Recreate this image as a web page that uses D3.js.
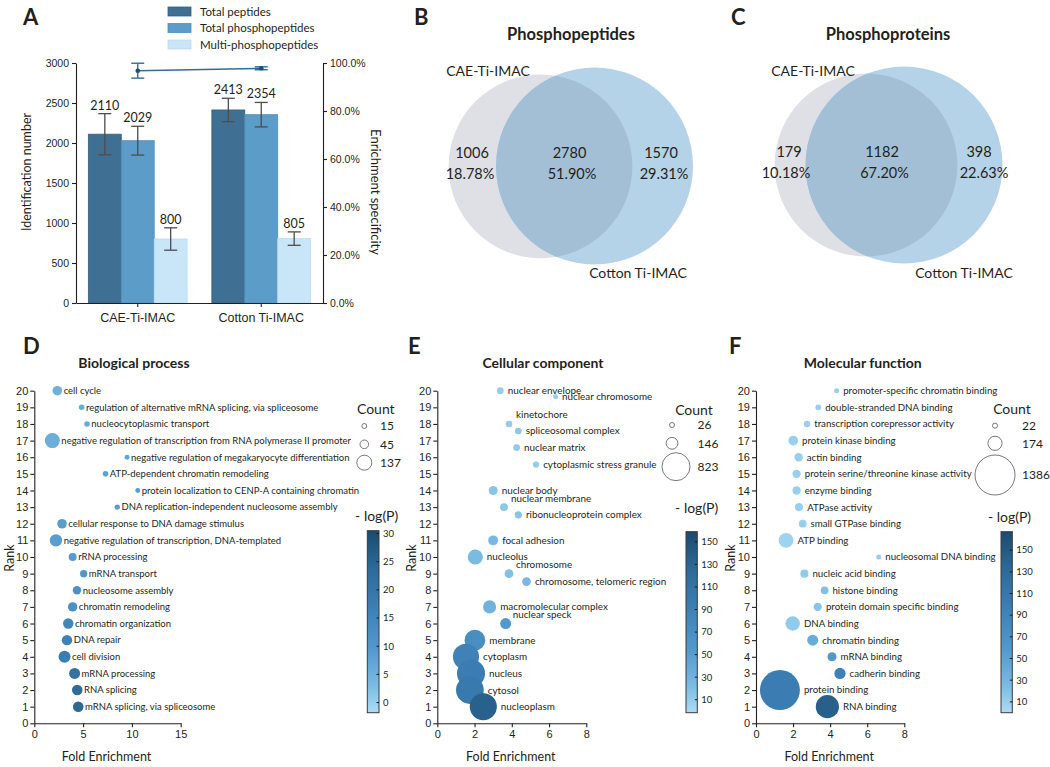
<!DOCTYPE html>
<html><head><meta charset="utf-8">
<script src="https://cdn.jsdelivr.net/npm/d3@7"></script>
<style>
body{margin:0;background:#fff}
svg{display:block;font-family:Lato,'Open Sans','DejaVu Sans',sans-serif}
</style></head><body>
<script>
// ================= DATA =================
// Panel A
const groups = ["CAE-Ti-IMAC", "Cotton Ti-IMAC"];
const seriesNames = ["Total peptides", "Total phosphopeptides", "Multi-phosphopeptides"];
const totalPeptides = [2110, 2413];
const totalPeptidesSD = [257, 146];
const totalPhosphopeptides = [2029, 2354];
const totalPhosphopeptidesSD = [180, 153];
const multiPhosphopeptides = [800, 805];
const multiPhosphopeptidesSD = [140, 84];
const enrichmentSpecificity = [96.8, 97.8];
const enrichmentSpecificitySD = [3.1, 0.6];
const countTicks = [0, 500, 1000, 1500, 2000, 2500, 3000];
const specificityTicks = [0, 20, 40, 60, 80, 100];

// Panels B, C (Venn): [CAE only, shared, Cotton only]
const vennSets = ["CAE-Ti-IMAC", "Cotton Ti-IMAC"];
const peptideCounts = [1006, 2780, 1570];
const peptidePercents = ["18.78%", "51.90%", "29.31%"];
const proteinCounts = [179, 1182, 398];
const proteinPercents = ["10.18%", "67.20%", "22.63%"];

// Panel D: Biological process
const bpTerms = ["cell cycle", "regulation of alternative mRNA splicing, via spliceosome", "nucleocytoplasmic transport",
  "negative regulation of transcription from RNA polymerase II promoter", "negative regulation of megakaryocyte differentiation",
  "ATP-dependent chromatin remodeling", "protein localization to CENP-A containing chromatin",
  "DNA replication-independent nucleosome assembly", "cellular response to DNA damage stimulus",
  "negative regulation of transcription, DNA-templated", "rRNA processing", "mRNA transport", "nucleosome assembly",
  "chromatin remodeling", "chromatin organization", "DNA repair", "cell division", "mRNA processing", "RNA splicing",
  "mRNA splicing, via spliceosome"];
const bpRank = [20, 19, 18, 17, 16, 15, 14, 13, 12, 11, 10, 9, 8, 7, 6, 5, 4, 3, 2, 1];
const bpFold = [2.36, 4.85, 5.4, 1.85, 9.5, 7.3, 10.6, 8.5, 2.84, 2.22, 3.93, 5.06, 4.37, 3.93, 3.48, 3.35, 3.1, 4.13, 4.4, 4.5];
const bpCount = [56, 19, 19, 137, 15, 19, 15, 18, 56, 94, 39, 33, 43, 54, 66, 66, 88, 74, 68, 68];
const bpLogP = [5, 6, 6, 5.5, 7, 8, 8.5, 8.5, 8.5, 8.5, 9, 10.5, 12, 12, 15, 16.5, 17.5, 21.5, 23, 24];
const bpLegendCounts = [15, 45, 137];
const bpColorTicks = [0, 5, 10, 15, 20, 25, 30];

// Panel E: Cellular component
const ccTerms = ["nuclear envelope", "nuclear chromosome", "kinetochore", "spliceosomal complex", "nuclear matrix",
  "cytoplasmic stress granule", "nuclear body", "nuclear membrane", "ribonucleoprotein complex", "focal adhesion",
  "nucleolus", "chromosome", "chromosome, telomeric region", "macromolecular complex", "nuclear speck", "membrane",
  "cytoplasm", "nucleus", "cytosol", "nucleoplasm"];
const ccRank = [20, 19.64, 18, 17.58, 16.58, 15.56, 14, 13, 12.54, 11, 10, 9, 8.52, 7, 6, 5, 4, 3, 2, 1];
const ccFold = [3.38, 6.35, 3.85, 4.35, 4.26, 5.3, 3.0, 3.58, 4.35, 3.0, 2.04, 3.85, 4.79, 2.81, 3.67, 2.02, 1.54, 1.81, 1.75, 2.47];
const ccCount = [49, 26, 46, 46, 49, 41, 84, 65, 55, 104, 241, 80, 80, 180, 127, 450, 720, 823, 810, 770];
const ccLogP = [10, 9, 11, 13, 12, 10, 16, 14, 16, 24, 23, 19, 24, 31, 55, 71, 87, 95, 100, 135];
const ccLegendCounts = [26, 146, 823];
const ccColorTicks = [10, 30, 50, 70, 90, 110, 130, 150];
const ccLabelsAbove = ["kinetochore", "nuclear membrane", "chromosome", "nuclear speck"];

// Panel F: Molecular function
const mfTerms = ["promoter-specific chromatin binding", "double-stranded DNA binding", "transcription corepressor activity",
  "protein kinase binding", "actin binding", "protein serine/threonine kinase activity", "enzyme binding", "ATPase activity",
  "small GTPase binding", "ATP binding", "nucleosomal DNA binding", "nucleic acid binding", "histone binding",
  "protein domain specific binding", "DNA binding", "chromatin binding", "mRNA binding", "cadherin binding",
  "protein binding", "RNA binding"];
const mfRank = [20, 19, 18, 17, 16, 15, 14, 13, 12, 11, 10, 9, 8, 7, 6, 5, 4, 3, 2, 1];
const mfFold = [4.35, 3.36, 2.75, 2.01, 2.3, 2.19, 2.19, 2.32, 2.52, 1.62, 6.62, 2.61, 3.7, 3.33, 1.98, 3.06, 4.1, 4.53, 1.29, 3.85];
const mfCount = [22, 29, 35, 81, 60, 60, 60, 60, 52, 190, 22, 57, 52, 60, 180, 105, 71, 109, 1386, 466];
const mfLogP = [9, 10, 10, 9, 10, 10, 10, 10, 10, 7, 11, 14, 22, 18, 14, 40, 60, 95, 100, 144];
const mfLegendCounts = [22, 174, 1386];
const mfColorTicks = [10, 30, 50, 70, 90, 110, 130, 150];

// ================= DRAWING =================
const TXT = "#231f20";
const svg = d3.select("body").append("svg").attr("width", 1050).attr("height", 767);

function txt(g, s, x, y, size, opts = {}) {
  const t = g.append("text").attr("x", x).attr("y", y).attr("font-size", size).attr("fill", TXT).text(s);
  if (opts.anchor) t.attr("text-anchor", opts.anchor);
  if (opts.weight) t.attr("font-weight", opts.weight);
  if (opts.dy) t.attr("dy", opts.dy);
  if (opts.rotate !== undefined) t.attr("transform", `rotate(${opts.rotate},${x},${y})`);
  return t;
}
function styleAxis(sel, fs) {
  sel.selectAll(".domain").attr("stroke", TXT).attr("stroke-width", 1.1);
  sel.selectAll(".tick line").attr("stroke", TXT).attr("stroke-width", 1.1);
  sel.selectAll(".tick text").attr("fill", TXT).attr("font-size", fs).attr("font-family", null);
}

// Panel letters
[["A", 23, 25], ["B", 414, 25], ["C", 731, 25], ["D", 23, 354], ["E", 408, 354], ["F", 729, 354]]
  .forEach(([s, x, y]) => txt(svg, s, x, y, 22, { weight: 700 }));

// ---------- Panel A ----------
(function () {
  const g = svg.append("g");
  const x0 = d3.scaleBand().domain(groups).range([76, 323]).paddingInner(0.2).paddingOuter(0.1);
  const x1 = d3.scaleBand().domain(seriesNames).range([0, x0.bandwidth()]);
  const y = d3.scaleLinear().domain([0, 3000]).range([303, 63]);
  const yR = d3.scaleLinear().domain([0, 100]).range([303, 63]);
  const fills = ["#3f6f92", "#5b9cc9", "#c9e5f8"];
  const strokes = ["#33607f", "#4f8fbc", "#bcdcf2"];
  const vals = [totalPeptides, totalPhosphopeptides, multiPhosphopeptides];
  const sds = [totalPeptidesSD, totalPhosphopeptidesSD, multiPhosphopeptidesSD];
  const bars = [];
  seriesNames.forEach((s, i) => groups.forEach((gr, j) => bars.push({ s, gr, i, v: vals[i][j], sd: sds[i][j] })));

  g.selectAll("rect.bar").data(bars).join("rect")
    .attr("x", d => x0(d.gr) + x1(d.s)).attr("y", d => y(d.v))
    .attr("width", x1.bandwidth()).attr("height", d => y(0) - y(d.v))
    .attr("fill", d => fills[d.i]).attr("stroke", d => strokes[d.i]).attr("stroke-width", 0.8);

  const cx = d => x0(d.gr) + x1(d.s) + x1.bandwidth() / 2;
  const eb = g.selectAll("g.eb").data(bars).join("g").attr("stroke", "#4d4d4d").attr("stroke-width", 1.3);
  eb.append("line").attr("x1", cx).attr("x2", cx).attr("y1", d => y(d.v + d.sd)).attr("y2", d => y(d.v - d.sd));
  eb.append("line").attr("x1", d => cx(d) - 6.5).attr("x2", d => cx(d) + 6.5).attr("y1", d => y(d.v + d.sd)).attr("y2", d => y(d.v + d.sd));
  eb.append("line").attr("x1", d => cx(d) - 6.5).attr("x2", d => cx(d) + 6.5).attr("y1", d => y(d.v - d.sd)).attr("y2", d => y(d.v - d.sd));
  g.selectAll("text.val").data(bars).join("text")
    .attr("x", cx).attr("y", d => y(d.v + d.sd) - 4).attr("text-anchor", "middle")
    .attr("font-size", 12.5).attr("fill", TXT).text(d => d.v);

  // axes
  const ax = g.append("g").call(d3.axisLeft(y).tickValues(countTicks).tickSize(4).tickSizeOuter(0).tickPadding(3).tickFormat(d3.format("d")))
    .attr("transform", "translate(76,0)");
  styleAxis(ax, 10.5);
  const ar = g.append("g").attr("transform", "translate(323,0)")
    .call(d3.axisRight(yR).tickValues(specificityTicks).tickSize(4).tickSizeOuter(0).tickPadding(3).tickFormat(d => d.toFixed(1) + "%"));
  styleAxis(ar, 10.5);
  const ab = g.append("g").attr("transform", "translate(0,303)")
    .call(d3.axisBottom(x0).tickSize(4).tickSizeOuter(0).tickPadding(6));
  styleAxis(ab, 12.5);

  // specificity line
  const pts = groups.map((gr, j) => ({ x: x0(gr) + x0.bandwidth() / 2, v: enrichmentSpecificity[j], sd: enrichmentSpecificitySD[j] }));
  const lc = "#2f6d98";
  g.append("path").attr("d", d3.line().x(d => d.x).y(d => yR(d.v))(pts)).attr("fill", "none").attr("stroke", lc).attr("stroke-width", 1.5);
  const pe = g.selectAll("g.pe").data(pts).join("g").attr("stroke", lc).attr("stroke-width", 1.4);
  pe.append("line").attr("x1", d => d.x).attr("x2", d => d.x).attr("y1", d => yR(d.v + d.sd)).attr("y2", d => yR(d.v - d.sd));
  pe.append("line").attr("x1", d => d.x - 6.5).attr("x2", d => d.x + 6.5).attr("y1", d => yR(d.v + d.sd)).attr("y2", d => yR(d.v + d.sd));
  pe.append("line").attr("x1", d => d.x - 6.5).attr("x2", d => d.x + 6.5).attr("y1", d => yR(d.v - d.sd)).attr("y2", d => yR(d.v - d.sd));
  g.selectAll("circle.pt").data(pts).join("circle").attr("cx", d => d.x).attr("cy", d => yR(d.v)).attr("r", 2.3).attr("fill", "#1d4f74");

  // axis titles
  txt(g, "Identification number", 31, 172, 12.5, { anchor: "middle", rotate: -90 });
  txt(g, "Enrichment specificity", 371, 192, 13, { anchor: "middle", rotate: 90 });

  // legend
  const lg = g.selectAll("g.lg").data(seriesNames).join("g").attr("transform", (d, i) => `translate(168,${7 + i * 16.5})`);
  lg.append("rect").attr("width", 23).attr("height", 9).attr("fill", (d, i) => fills[i]).attr("stroke", (d, i) => strokes[i]).attr("stroke-width", 0.8);
  lg.append("text").attr("x", 32).attr("y", 4.5).attr("dy", "0.35em").attr("font-size", 11.5).attr("fill", TXT).text(d => d);
})();

// ---------- Panels B, C (Venn) ----------
function venn(o) {
  const g = svg.append("g");
  const rs = d3.scaleSqrt().domain([0, o.maxTotal]).range([0, o.maxR]);
  const totL = o.counts[0] + o.counts[1], totR = o.counts[1] + o.counts[2];
  const rL = rs(totL), rR = rs(totR);
  const id = "clip" + o.key;
  g.append("clipPath").attr("id", id).append("circle").attr("cx", o.cL[0]).attr("cy", o.cL[1]).attr("r", rL);
  g.append("circle").attr("cx", o.cL[0]).attr("cy", o.cL[1]).attr("r", rL).attr("fill", "#dfdfe6");
  g.append("circle").attr("cx", o.cR[0]).attr("cy", o.cR[1]).attr("r", rR).attr("fill", "#b4d3e8");
  g.append("circle").attr("cx", o.cR[0]).attr("cy", o.cR[1]).attr("r", rR).attr("fill", "#a3bfd6").attr("clip-path", `url(#${id})`);
  txt(g, o.title, o.titleX, 34, 16.5, { anchor: "middle", weight: 700, dy: "0.35em" });
  txt(g, vennSets[0], o.lblL, 71, 14, { anchor: "middle", dy: "0.35em" });
  txt(g, vennSets[1], o.lblR, 273, 14, { anchor: "middle", dy: "0.35em" });
  o.counts.forEach((c, i) => {
    txt(g, c, o.numX[i], o.numY, 14.5, { anchor: "middle", dy: "0.35em" });
    txt(g, o.pcts[i], o.pctX[i], o.numY + 21, 14.5, { anchor: "middle", dy: "0.35em" });
  });
}
venn({ key: "B", title: "Phosphopeptides", titleX: 571, counts: peptideCounts, pcts: peptidePercents,
  maxTotal: peptideCounts[1] + peptideCounts[2], maxR: 98.5, cL: [540.5, 166.3], cR: [594.5, 166],
  lblL: 488, lblR: 638, numX: [472, 569.5, 661], pctX: [470, 572, 664], numY: 152.5 });
venn({ key: "C", title: "Phosphoproteins", titleX: 888, counts: proteinCounts, pcts: proteinPercents,
  maxTotal: proteinCounts[1] + proteinCounts[2], maxR: 98.5, cL: [866, 165], cR: [904, 165],
  lblL: 813, lblR: 964, numX: [789, 882, 979], pctX: [786, 884.5, 984], numY: 152 });

// ---------- Panels D, E, F (bubble) ----------
const rampColors = ["#acdcf4", "#7bbbe2", "#5399cc", "#3b7db2", "#2c6997", "#1b4b6e"];
const rampStops = [0, 0.15, 0.35, 0.6, 0.8, 1];
function colorRamp(dom) {
  return d3.scaleLinear().domain(rampStops.map(t => dom[0] + t * (dom[1] - dom[0]))).range(rampColors).clamp(true);
}
let gradN = 0;
function bubblePanel(o) {
  const g = svg.append("g");
  const x = d3.scaleLinear().domain(o.xDomain).range(o.xRange);
  const y = d3.scaleLinear().domain([0, 20]).range([723.3, 390.7]);
  const r = d3.scaleSqrt().domain([0, o.countMax]).range([0, o.rMax]);
  const c = colorRamp(o.cDomain);
  const above = o.above || [];
  const data = o.terms.map((t, i) => ({ t, fe: o.fold[i], rk: o.rank[i], n: o.count[i], p: o.logp[i] }))
    .sort((a, b) => b.rk - a.rk);

  // axes
  const ax = g.append("g").attr("transform", "translate(0,723.3)")
    .call(d3.axisBottom(x).tickValues(o.xTicks).tickSize(4).tickSizeOuter(0).tickPadding(3));
  styleAxis(ax, 11);
  const ay = g.append("g").attr("transform", `translate(${o.xRange[0]},0)`)
    .call(d3.axisLeft(y).tickValues(d3.range(0, 21)).tickSize(4).tickSizeOuter(0).tickPadding(2));
  styleAxis(ay, 11);

  g.selectAll("circle.b").data(data).join("circle")
    .attr("cx", d => x(d.fe)).attr("cy", d => y(d.rk)).attr("r", d => r(d.n)).attr("fill", d => c(d.p));
  g.selectAll("text.l").data(data).join("text")
    .attr("x", d => above.includes(d.t) ? x(d.fe) + 7 : x(d.fe) + r(d.n) + o.gap)
    .attr("y", d => above.includes(d.t) ? y(d.rk) - 9 : y(d.rk))
    .attr("dy", "0.35em").attr("font-size", o.labelSize).attr("fill", TXT).text(d => d.t);

  // titles
  txt(g, o.title, o.titleX, 363, 14, { anchor: "middle", weight: 700, dy: "0.35em" });
  txt(g, "Rank", o.rankX, 558, 12.5, { anchor: "middle", rotate: -90, dy: "0.35em" });
  txt(g, "Fold Enrichment", (o.xRange[0] + o.xRange[1]) / 2 - 1, 757, 12.5, { anchor: "middle", dy: "0.35em" });

  // count legend
  txt(g, "Count", o.countTitle[0], o.countTitle[1], 14, { anchor: "middle", dy: "0.35em" });
  o.legendCounts.forEach((n, i) => {
    g.append("circle").attr("cx", o.legCx[i]).attr("cy", o.legY[i]).attr("r", r(n))
      .attr("fill", "none").attr("stroke", "#555").attr("stroke-width", 0.8);
    txt(g, n, o.legLabelX, o.legY[i], 12, { dy: "0.35em" });
  });

  // color bar
  txt(g, "- log(P)", o.logTitle[0], o.logTitle[1], 14, { anchor: "middle", dy: "0.35em" });
  const gid = "grad" + (gradN++);
  const grad = svg.append("defs").append("linearGradient").attr("id", gid)
    .attr("x1", 0).attr("y1", 1).attr("x2", 0).attr("y2", 0);
  rampStops.forEach((s, i) => grad.append("stop").attr("offset", s).attr("stop-color", rampColors[i]));
  const cb = o.cbar;
  g.append("rect").attr("x", cb.x).attr("y", cb.y0).attr("width", cb.w).attr("height", cb.y1 - cb.y0)
    .attr("fill", `url(#${gid})`).attr("stroke", "#3a3a3a").attr("stroke-width", 1);
  const yc = d3.scaleLinear().domain(o.cDomain).range([cb.y1, cb.y0]);
  o.cTicks.forEach(t => {
    g.append("line").attr("x1", cb.x + cb.w - 2.5).attr("x2", cb.x + cb.w).attr("y1", yc(t)).attr("y2", yc(t))
      .attr("stroke", "#1a1a1a").attr("stroke-width", 1);
    txt(g, t, cb.x + cb.w + 4, yc(t), 9.5, { dy: "0.35em" });
  });
}

bubblePanel({ terms: bpTerms, fold: bpFold, rank: bpRank, count: bpCount, logp: bpLogP,
  xDomain: [0, 15], xRange: [34.3, 180.7], xTicks: [0, 5, 10, 15], countMax: 137, rMax: 7.5,
  cDomain: [-1.8, 30.5], cTicks: bpColorTicks, labelSize: 9.5, gap: 1.5,
  title: "Biological process", titleX: 134, rankX: 10,
  countTitle: [375.8, 409], legendCounts: bpLegendCounts, legCx: [364.3, 364.3, 364.3], legY: [426, 444.3, 462.7], legLabelX: 380,
  logTitle: [376.7, 516], cbar: { x: 367.3, w: 11.7, y0: 530.7, y1: 712.7 } });

bubblePanel({ terms: ccTerms, fold: ccFold, rank: ccRank, count: ccCount, logp: ccLogP, above: ccLabelsAbove,
  xDomain: [0, 8], xRange: [437.3, 586.3], xTicks: [0, 2, 4, 6, 8], countMax: 823, rMax: 14,
  cDomain: [-1.5, 159], cTicks: ccColorTicks, labelSize: 9.9, gap: 4,
  title: "Cellular component", titleX: 543, rankX: 411.7,
  countTitle: [694, 410], legendCounts: ccLegendCounts, legCx: [672, 672, 676], legY: [425, 443.3, 466.7], legLabelX: 697.5,
  logTitle: [696.7, 508], cbar: { x: 686, w: 11.3, y0: 531.7, y1: 712.7 } });

bubblePanel({ terms: mfTerms, fold: mfFold, rank: mfRank, count: mfCount, logp: mfLogP,
  xDomain: [0, 8], xRange: [756, 904.3], xTicks: [0, 2, 4, 6, 8], countMax: 1386, rMax: 20,
  cDomain: [0, 167], cTicks: mfColorTicks, labelSize: 9.7, gap: 4,
  title: "Molecular function", titleX: 862.7, rankX: 730.7,
  countTitle: [1012, 409], legendCounts: mfLegendCounts, legCx: [995, 995, 995], legY: [425.7, 443.3, 475], legLabelX: 1022,
  logTitle: [1009.5, 516.7], cbar: { x: 1001, w: 11.3, y0: 531.7, y1: 712.7 } });
</script>
</body></html>
